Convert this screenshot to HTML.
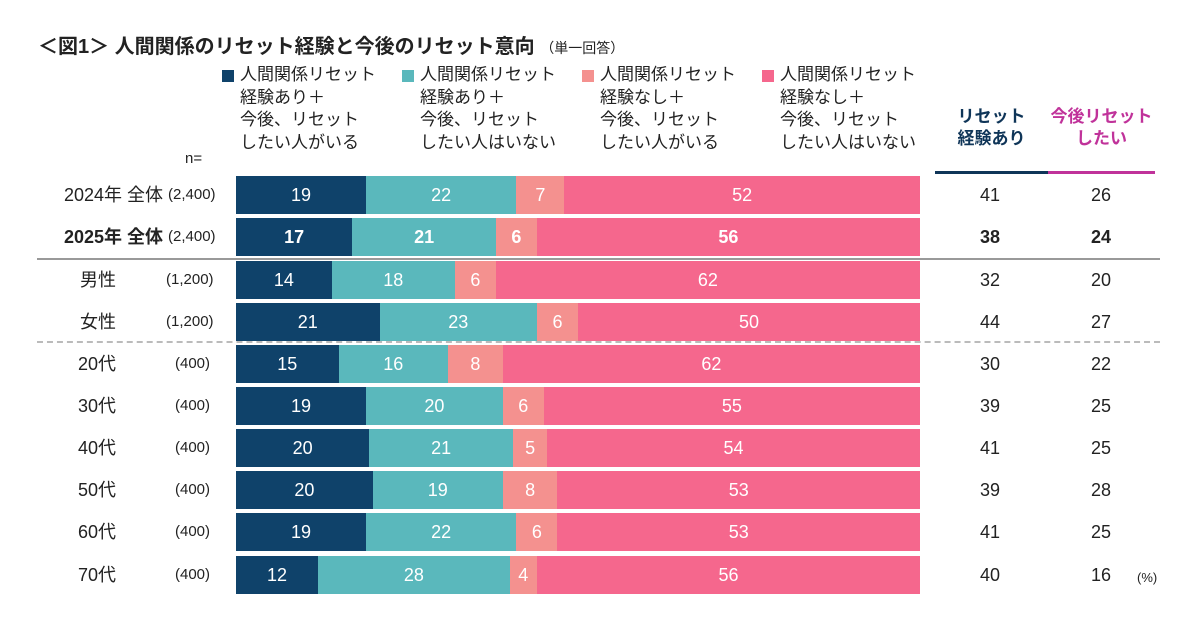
<!DOCTYPE html>
<html><head><meta charset="utf-8"><style>
body{margin:0;width:1200px;height:630px;background:#fff;position:relative;font-family:"Liberation Sans","Noto Sans CJK JP",sans-serif;color:#222;overflow:hidden}
.a{position:absolute}
.title{left:38px;top:30px;font-size:20px;font-weight:bold;white-space:nowrap}
.title span{font-size:14px;font-weight:normal}
.lg{top:64px;font-size:17px;line-height:22.5px;white-space:nowrap}
.sq{position:absolute;left:-18px;top:6px;width:12px;height:12px}
.bar{left:236px;width:684px;height:38px;display:flex}
.bar div{height:100%;display:flex;align-items:center;justify-content:center;color:#fff;font-size:18px}
.n{background:#0f426a}.t{background:#5ab8bc}.s{background:#f4918f}.p{background:#f5678d}
.lab{font-size:18px;white-space:nowrap;line-height:38px;height:38px}
.nn{font-size:15px;white-space:nowrap;line-height:38px;height:38px}
.v{font-size:18px;width:60px;text-align:center;line-height:38px;height:38px}
.b{font-weight:bold}
</style></head><body>
<div class="a title">＜図1＞ 人間関係のリセット経験と今後のリセット意向 <span>（単一回答）</span></div>
<div class="a lg" style="left:240px"><div class="sq n"></div>人間関係リセット<br>経験あり＋<br>今後、リセット<br>したい人がいる</div>
<div class="a lg" style="left:420px"><div class="sq t"></div>人間関係リセット<br>経験あり＋<br>今後、リセット<br>したい人はいない</div>
<div class="a lg" style="left:600px"><div class="sq s"></div>人間関係リセット<br>経験なし＋<br>今後、リセット<br>したい人がいる</div>
<div class="a lg" style="left:780px"><div class="sq p"></div>人間関係リセット<br>経験なし＋<br>今後、リセット<br>したい人はいない</div>
<div class="a b" style="left:935px;top:106px;width:113px;text-align:center;font-size:17px;line-height:22px;color:#0f3558">リセット<br>経験あり</div>
<div class="a b" style="left:1048px;top:106px;width:107px;text-align:center;font-size:17px;line-height:22px;color:#c0329a">今後リセット<br>したい</div>
<div class="a" style="left:935px;top:171px;width:113px;height:3px;background:#0f3558"></div>
<div class="a" style="left:1048px;top:171px;width:107px;height:3px;background:#c0329a"></div>
<div class="a" style="left:185px;top:150px;font-size:15px">n=</div>
<div class="a" style="left:37px;top:258px;width:1123px;height:2px;background:#999"></div>
<div class="a" style="left:37px;top:341px;width:1123px;border-top:2px dashed #bbb"></div>

<div class="a lab" style="right:1037px;top:176px">2024年 全体</div><div class="a nn" style="left:168px;top:176px">(2,400)</div>
<div class="a bar" style="top:176px"><div class="n" style="width:19%">19</div><div class="t" style="width:22%">22</div><div class="s" style="width:7%">7</div><div class="p" style="width:52%">52</div></div>
<div class="a v" style="left:960px;top:176px">41</div><div class="a v" style="left:1071px;top:176px">26</div>

<div class="a lab b" style="right:1037px;top:218px">2025年 全体</div><div class="a nn" style="left:168px;top:218px">(2,400)</div>
<div class="a bar b" style="top:218px"><div class="n" style="width:17%">17</div><div class="t" style="width:21%">21</div><div class="s" style="width:6%">6</div><div class="p" style="width:56%">56</div></div>
<div class="a v b" style="left:960px;top:218px">38</div><div class="a v b" style="left:1071px;top:218px">24</div>

<div class="a lab" style="left:80px;top:261px">男性</div><div class="a nn" style="left:166px;top:261px">(1,200)</div>
<div class="a bar" style="top:261px"><div class="n" style="width:14%">14</div><div class="t" style="width:18%">18</div><div class="s" style="width:6%">6</div><div class="p" style="width:62%">62</div></div>
<div class="a v" style="left:960px;top:261px">32</div><div class="a v" style="left:1071px;top:261px">20</div>

<div class="a lab" style="left:80px;top:303px">女性</div><div class="a nn" style="left:166px;top:303px">(1,200)</div>
<div class="a bar" style="top:303px"><div class="n" style="width:21%">21</div><div class="t" style="width:23%">23</div><div class="s" style="width:6%">6</div><div class="p" style="width:50%">50</div></div>
<div class="a v" style="left:960px;top:303px">44</div><div class="a v" style="left:1071px;top:303px">27</div>

<div class="a lab" style="left:78px;top:345px">20代</div><div class="a nn" style="left:175px;top:345px">(400)</div>
<div class="a bar" style="top:345px"><div class="n" style="width:15%">15</div><div class="t" style="width:16%">16</div><div class="s" style="width:8%">8</div><div class="p" style="width:61%">62</div></div>
<div class="a v" style="left:960px;top:345px">30</div><div class="a v" style="left:1071px;top:345px">22</div>

<div class="a lab" style="left:78px;top:387px">30代</div><div class="a nn" style="left:175px;top:387px">(400)</div>
<div class="a bar" style="top:387px"><div class="n" style="width:19%">19</div><div class="t" style="width:20%">20</div><div class="s" style="width:6%">6</div><div class="p" style="width:55%">55</div></div>
<div class="a v" style="left:960px;top:387px">39</div><div class="a v" style="left:1071px;top:387px">25</div>

<div class="a lab" style="left:78px;top:429px">40代</div><div class="a nn" style="left:175px;top:429px">(400)</div>
<div class="a bar" style="top:429px"><div class="n" style="width:19.5%">20</div><div class="t" style="width:21%">21</div><div class="s" style="width:5%">5</div><div class="p" style="width:54.5%">54</div></div>
<div class="a v" style="left:960px;top:429px">41</div><div class="a v" style="left:1071px;top:429px">25</div>

<div class="a lab" style="left:78px;top:471px">50代</div><div class="a nn" style="left:175px;top:471px">(400)</div>
<div class="a bar" style="top:471px"><div class="n" style="width:20%">20</div><div class="t" style="width:19%">19</div><div class="s" style="width:8%">8</div><div class="p" style="width:53%">53</div></div>
<div class="a v" style="left:960px;top:471px">39</div><div class="a v" style="left:1071px;top:471px">28</div>

<div class="a lab" style="left:78px;top:513px">60代</div><div class="a nn" style="left:175px;top:513px">(400)</div>
<div class="a bar" style="top:513px"><div class="n" style="width:19%">19</div><div class="t" style="width:22%">22</div><div class="s" style="width:6%">6</div><div class="p" style="width:53%">53</div></div>
<div class="a v" style="left:960px;top:513px">41</div><div class="a v" style="left:1071px;top:513px">25</div>

<div class="a lab" style="left:78px;top:556px">70代</div><div class="a nn" style="left:175px;top:556px">(400)</div>
<div class="a bar" style="top:556px"><div class="n" style="width:12%">12</div><div class="t" style="width:28%">28</div><div class="s" style="width:4%">4</div><div class="p" style="width:56%">56</div></div>
<div class="a v" style="left:960px;top:556px">40</div><div class="a v" style="left:1071px;top:556px">16</div>
<div class="a" style="left:1137px;top:570px;font-size:13px">(%)</div>
</body></html>
